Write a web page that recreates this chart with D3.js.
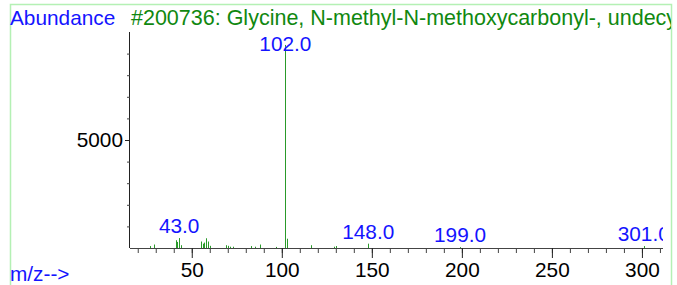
<!doctype html>
<html>
<head>
<script src="https://cdn.jsdelivr.net/npm/d3@7/dist/d3.min.js"></script>
<style>
  body { margin: 0; background: #fff; }
  text { font-family: "Liberation Sans", Arial, sans-serif; }
</style>
</head>
<body>
<svg width="677" height="285"></svg>
<script>
// spectrum data
var mz    = [27, 29, 41, 42, 43, 44, 55, 56, 57, 58, 59, 60, 69, 70, 71, 73, 83, 85, 88, 97, 102, 103, 116, 129, 130, 148, 199, 301];
var abund = [90, 160, 360, 280, 460, 130, 300, 200, 250, 450, 300, 100, 130, 100, 60, 60, 90, 60, 160, 50, 9400, 430, 130, 60, 90, 200, 40, 90];
var labelMz = [43, 102, 148, 199, 301];
var xMajor = [50, 100, 150, 200, 250, 300];
var yMajor = [5000];
var title = "#200736: Glycine, N-methyl-N-methoxycarbonyl-, undecyl ester";

var svg = d3.select("svg");

var plotLeft = 130, plotRight = 663, plotTop = 32, plotBottom = 248;
var fs = "20.8px";

var x = d3.scaleLinear().domain([15.7, 311.7]).range([plotLeft, plotRight]);
var y = d3.scaleLinear().domain([0, 10000]).range([plotBottom, plotTop]);

// light green frame
svg.append("rect")
   .attr("x", 10.5).attr("y", 4.5)
   .attr("width", 661).attr("height", 300)
   .attr("fill", "none")
   .attr("stroke", "#b4f0b4")
   .attr("stroke-width", 1.5);

svg.append("clipPath").attr("id", "frameClip")
   .append("rect").attr("x", 11).attr("y", 0).attr("width", 660).attr("height", 285);
svg.append("clipPath").attr("id", "plotClip")
   .append("rect").attr("x", plotLeft).attr("y", 0).attr("width", plotRight - plotLeft).attr("height", 285);

svg.append("text")
   .attr("x", 10).attr("y", 25)
   .attr("font-size", fs)
   .attr("fill", "#1414ff")
   .text("Abundance");

svg.append("text")
   .attr("clip-path", "url(#frameClip)")
   .attr("x", 131).attr("y", 25)
   .attr("font-size", "21.5px")
   .attr("fill", "#108810")
   .text(title);

svg.append("text")
   .attr("x", 10).attr("y", 281)
   .attr("font-size", fs)
   .attr("fill", "#1414ff")
   .text("m/z-->");

// peaks
var peaks = mz.map(function(m, i) { return {m: m, v: abund[i]}; });
svg.append("g").selectAll("line")
   .data(peaks)
   .enter().append("line")
   .attr("x1", function(d) { return Math.round(x(d.m)) + 0.5; })
   .attr("x2", function(d) { return Math.round(x(d.m)) + 0.5; })
   .attr("y1", plotBottom)
   .attr("y2", function(d) { return y(d.v); })
   .attr("stroke", "#2a9a2a")
   .attr("stroke-width", 1);

// x axis
var gx = svg.append("g")
   .attr("transform", "translate(0," + plotBottom + ")")
   .call(d3.axisBottom(x).tickValues(d3.range(20, 311, 10)).tickSize(5).tickFormat(""));
gx.select(".domain").attr("d", "M" + plotLeft + ",0.5H" + plotRight).attr("stroke", "#444");
gx.selectAll(".tick line").attr("stroke", "#444");

var gxMajor = svg.append("g")
   .attr("transform", "translate(0," + plotBottom + ")")
   .call(d3.axisBottom(x).tickValues(xMajor).tickSize(10).tickPadding(4));
gxMajor.select(".domain").remove();
gxMajor.selectAll(".tick line").attr("stroke", "#222");
gxMajor.selectAll(".tick text")
   .attr("font-size", fs)
   .attr("font-family", "Liberation Sans, Arial, sans-serif")
   .attr("fill", "#000");

// y axis
var gy = svg.append("g")
   .attr("transform", "translate(" + plotLeft + ",0)")
   .call(d3.axisLeft(y).tickValues(d3.range(1000, 10000, 1000)).tickSize(3).tickFormat(""));
gy.select(".domain").attr("d", "M-0.5," + plotTop + "V" + plotBottom).attr("stroke", "#222");
gy.selectAll(".tick line").attr("stroke", "#444");

var gyMajor = svg.append("g")
   .attr("transform", "translate(" + plotLeft + ",0)")
   .call(d3.axisLeft(y).tickValues(yMajor).tickSize(5).tickPadding(2).tickFormat(d3.format("d")));
gyMajor.select(".domain").remove();
gyMajor.selectAll(".tick line").attr("stroke", "#222");
gyMajor.selectAll(".tick text")
   .attr("font-size", fs)
   .attr("font-family", "Liberation Sans, Arial, sans-serif")
   .attr("fill", "#000");

// peak labels
svg.append("g")
   .attr("clip-path", "url(#plotClip)")
   .selectAll("text")
   .data(labelMz)
   .enter().append("text")
   .attr("x", function(m) { return x(m); })
   .attr("y", function(m) {
       var v = abund[mz.indexOf(m)];
       return Math.max(y(v) - 5, 51);
   })
   .attr("text-anchor", "middle")
   .attr("font-size", fs)
   .attr("fill", "#1414ff")
   .text(function(m) { return m.toFixed(1); });
</script>
</body>
</html>
